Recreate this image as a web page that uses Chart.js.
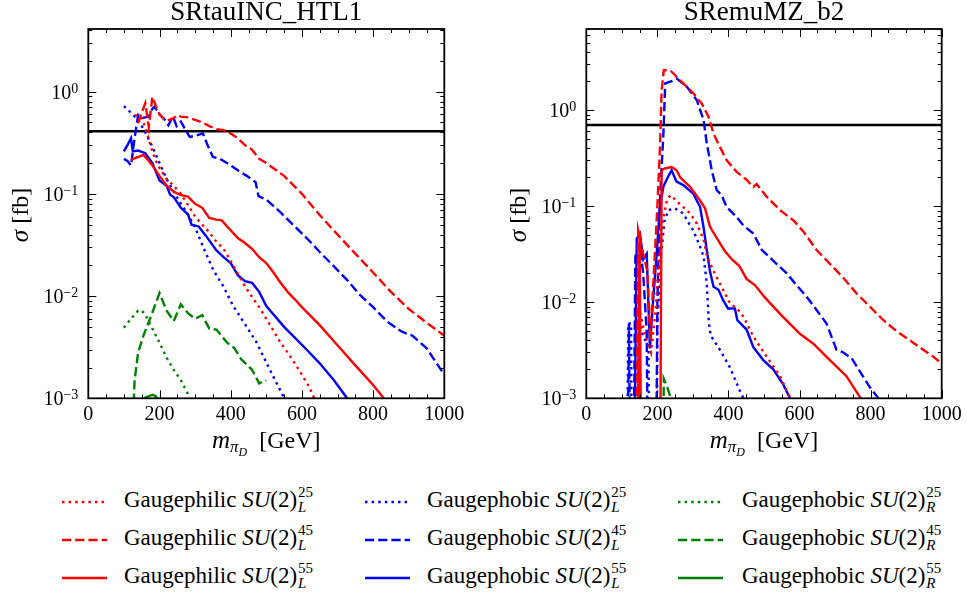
<!DOCTYPE html>
<html>
<head>
<meta charset="utf-8">
<script src="https://cdn.jsdelivr.net/npm/chart.js@4.4.0/dist/chart.umd.min.js"></script>
<style>
  body { margin: 0; background: #fff; width: 967px; height: 598px; overflow: hidden; position: relative; font-family: "Liberation Serif", serif; }
  #tauChart { position: absolute; left: 0; top: 0; }
  #emuChart { position: absolute; left: 480px; top: 0; }
  .entry { position: absolute; height: 30px; }
  .entry svg { position: absolute; left: 0; top: 12px; }
  .entry .txt { position: absolute; top: -3px; line-height: 30px; font-size: 23px; white-space: nowrap; color: #000; }
  .ss { display: inline-block; position: relative; width: 17px; height: 23px; }
  .ss span { position: absolute; left: 1px; font-size: 15px; line-height: 15px; }
  .ss .up { top: 1px; }
  .ss .dn { top: 16px; font-style: italic; }
</style>
</head>
<body>
<canvas id="tauChart" width="480" height="460"></canvas>
<canvas id="emuChart" width="487" height="460"></canvas>
<div id="legend"></div>
<script>
// ---- data: [m_piD in GeV, sigma in fb] ----
// SRtauINC_HTL1
const tauPhilic25L = [[130,0.59],[140,0.58],[150,0.55],[160,0.45],[170,0.34],[180,0.26],[190,0.21],[200,0.18],[220,0.14],[240,0.12],[260,0.1],[280,0.078],[300,0.06],[320,0.05],[340,0.042],[360,0.034],[380,0.029],[400,0.022],[420,0.0165],[440,0.0125],[460,0.0098],[480,0.0078],[500,0.006],[520,0.0046],[540,0.0035],[560,0.0028],[580,0.0022],[600,0.0017],[620,0.0013],[635,0.001],[650,0.0008]];
const tauPhilic45L = [[140,0.49],[150,0.62],[160,0.77],[170,0.45],[180,0.89],[190,0.72],[200,0.6],[210,0.55],[220,0.52],[240,0.55],[250,0.59],[260,0.57],[280,0.56],[300,0.53],[320,0.5],[340,0.46],[360,0.43],[380,0.42],[400,0.39],[420,0.35],[440,0.3],[460,0.27],[480,0.22],[500,0.2],[550,0.15],[600,0.1],[650,0.062],[700,0.04],[750,0.026],[800,0.017],[850,0.011],[900,0.0075],[950,0.0055],[1000,0.0041]];
const tauPhilic55L = [[120,0.215],[140,0.23],[155,0.24],[165,0.22],[180,0.19],[200,0.15],[220,0.12],[240,0.105],[260,0.097],[280,0.094],[300,0.08],[320,0.073],[340,0.058],[360,0.056],[375,0.055],[390,0.048],[400,0.044],[420,0.037],[440,0.033],[460,0.029],[480,0.024],[500,0.021],[520,0.017],[540,0.0135],[560,0.011],[580,0.0093],[600,0.0078],[650,0.0052],[700,0.0033],[750,0.0021],[800,0.00135],[830,0.001],[850,0.00085]];
const tauPhobic25L = [[100,0.72],[120,0.62],[140,0.53],[160,0.4],[180,0.29],[200,0.2],[220,0.14],[240,0.105],[260,0.08],[280,0.063],[300,0.047],[323,0.03],[351,0.018],[379,0.0125],[407,0.008],[445,0.005],[473,0.0035],[510,0.0019],[548,0.00104],[560,0.0008]];
const tauPhobic45L = [[100,0.22],[110,0.21],[120,0.19],[130,0.35],[140,0.59],[150,0.55],[160,0.56],[170,0.57],[180,0.68],[186,0.71],[200,0.6],[215,0.53],[225,0.47],[238,0.57],[248,0.46],[260,0.51],[275,0.41],[285,0.36],[300,0.37],[322,0.39],[335,0.3],[350,0.23],[370,0.22],[400,0.19],[420,0.17],[445,0.15],[470,0.13],[478,0.095],[500,0.088],[540,0.066],[580,0.048],[620,0.035],[650,0.027],[690,0.0195],[730,0.014],[760,0.0105],[800,0.0078],[840,0.0056],[880,0.0045],[910,0.0041],[950,0.0031],[1000,0.0017]];
const tauPhobic55L = [[100,0.26],[110,0.3],[120,0.35],[125,0.26],[140,0.265],[160,0.25],[180,0.2],[200,0.135],[220,0.12],[230,0.098],[240,0.093],[260,0.073],[280,0.063],[290,0.05],[310,0.048],[330,0.039],[360,0.028],[380,0.024],[400,0.021],[420,0.016],[440,0.014],[460,0.0135],[480,0.011],[500,0.008],[550,0.005],[613,0.003],[650,0.0022],[690,0.0015],[727,0.001],[740,0.00085]];
const tauPhobic25R = [[100,0.0049],[120,0.006],[140,0.0072],[150,0.0072],[160,0.0066],[180,0.0048],[200,0.0035],[220,0.0025],[240,0.0019],[260,0.0015],[280,0.0011],[290,0.0009]];
const tauPhobic45R = [[125,0.0005],[130,0.0015],[140,0.0028],[155,0.0041],[175,0.0062],[200,0.0107],[220,0.0072],[240,0.0057],[260,0.0083],[280,0.0068],[300,0.006],[320,0.0065],[340,0.0048],[360,0.0047],[390,0.0035],[410,0.0031],[430,0.0024],[460,0.0019],[480,0.0014],[500,0.0015]];
const tauPhobic55R = [[145,0.0009],[160,0.00102],[180,0.00108],[190,0.00105],[195,0.0009]];
const tauLimit = 0.41;

// SRemuMZ_b2
const emuPhilic25L = [[130,1e-6],[140,1e-6],[148,0.009],[158,0.006],[170,0.004],[182,0.003],[195,0.008],[205,0.03],[215,0.07],[228,0.12],[238,0.13],[254,0.113],[273,0.098],[292,0.084],[311,0.066],[330,0.045],[340,0.03],[357,0.0215],[376,0.0157],[404,0.0098],[425,0.0085],[442,0.0071],[470,0.0044],[508,0.0027],[545,0.0017],[564,0.0012],[575,0.001],[585,0.0008]];
const emuPhilic45L = [[136,1e-6],[146,0.056],[160,0.032],[172,0.021],[180,0.004],[190,0.02],[200,0.1],[207,0.38],[212,1.6],[218,2.6],[236,2.6],[264,2.05],[302,1.49],[325,1.17],[344,0.85],[358,0.57],[376,0.415],[395,0.3],[423,0.228],[450,0.19],[470,0.159],[479,0.17],[508,0.125],[545,0.091],[583,0.071],[610,0.055],[648,0.035],[686,0.025],[723,0.018],[761,0.0123],[798,0.009],[836,0.0065],[873,0.005],[911,0.004],[948,0.0032],[977,0.0027],[1000,0.0023]];
const emuPhilic55L = [[140,1e-6],[150,0.055],[158,1e-6],[205,1e-6],[212,0.237],[221,0.247],[240,0.256],[254,0.237],[264,0.2],[292,0.159],[320,0.115],[334,0.095],[348,0.061],[365,0.048],[390,0.034],[410,0.028],[430,0.024],[451,0.0175],[475,0.015],[500,0.0115],[517,0.0098],[554,0.007],[601,0.0047],[639,0.0037],[676,0.0027],[732,0.0017],[770,0.00103],[790,0.0008]];
const emuPhobic25L = [[110,1e-6],[118,0.006],[126,0.006],[130,1e-6],[140,1e-6],[146,0.008],[155,0.005],[166,0.004],[175,0.0035],[180,1e-6],[195,1e-6],[200,0.006],[210,0.03],[220,0.07],[231,0.091],[249,0.095],[273,0.084],[290,0.065],[301,0.056],[320,0.038],[330,0.03],[339,0.0157],[345,0.006],[350,0.0045],[376,0.0032],[404,0.0021],[432,0.0012],[442,0.001],[450,0.0008]];
const emuPhobic45L = [[110,1e-6],[120,0.006],[128,1e-6],[138,0.03],[150,0.04],[160,0.02],[170,0.005],[178,1e-6],[192,1e-6],[200,0.01],[207,0.115],[217,0.57],[222,1.9],[240,2.0],[254,2.14],[283,1.75],[311,1.27],[330,0.79],[339,0.45],[353,0.237],[367,0.147],[381,0.13],[395,0.098],[423,0.077],[442,0.063],[470,0.052],[494,0.035],[536,0.025],[564,0.02],[592,0.015],[620,0.0114],[648,0.0083],[676,0.006],[704,0.0032],[723,0.003],[747,0.0026],[770,0.0019],[798,0.0013],[822,0.001],[835,0.0008]];
const emuPhobic55L = [[128,1e-6],[142,0.046],[151,0.052],[160,0.028],[170,0.032],[179,0.0033],[188,0.0105],[198,0.032],[207,0.098],[217,0.16],[226,0.19],[240,0.237],[254,0.18],[273,0.166],[301,0.135],[320,0.099],[330,0.06],[339,0.035],[348,0.021],[358,0.0145],[372,0.0135],[385,0.0105],[399,0.0086],[418,0.0086],[425,0.0065],[451,0.0052],[470,0.0034],[498,0.0025],[526,0.002],[554,0.0014],[573,0.001],[585,0.0008]];
const emuPhobic25R = [];
const emuPhobic45R = [[212,1e-6],[218,0.0016],[228,0.0013],[236,0.00105],[245,0.0008]];
const emuPhobic55R = [];
const emuLimit = 0.70;

// ---- labels and styles ----
const legendWords = ['Gaugephilic','Gaugephilic','Gaugephilic','Gaugephobic','Gaugephobic','Gaugephobic','Gaugephobic','Gaugephobic','Gaugephobic'];
const legendUp = ['25','45','55','25','45','55','25','45','55'];
const legendDown = ['L','L','L','L','L','L','R','R','R'];
const lineColors = ['#ff0000','#ff0000','#ff0000','#0000ff','#0000ff','#0000ff','#008000','#008000','#008000'];
const lineStyles = ['dotted','dashed','solid','dotted','dashed','solid','dotted','dashed','solid'];
const massTicks = [0, 200, 400, 600, 800, 1000];
const decadeTicks = [1e-3, 1e-2, 1e-1, 1];
const decadeExp = ['\u22123', '\u22122', '\u22121', '0'];

const DASH = { dotted: [2.5, 4.1], dashed: [9.2, 4], solid: [] };
const SERIF = '"Liberation Serif", serif';

function buildDatasets(series, limit) {
  const sets = series.map((pts, i) => ({
    data: pts.map(p => ({ x: p[0], y: p[1] })),
    borderColor: lineColors[i],
    borderWidth: 2.4,
    borderDash: DASH[lineStyles[i]],
    pointRadius: 0,
    tension: 0,
    fill: false,
    clip: 0
  }));
  sets.push({
    data: [{ x: 0, y: limit }, { x: 1000, y: limit }],
    borderColor: '#000', borderWidth: 2.6, pointRadius: 0, clip: 0
  });
  return sets;
}

// frame, inward ticks, tick labels, axis titles and panel title
const axesDecor = {
  id: 'axesDecor',
  afterDraw(chart, args, o) {
    const { ctx, chartArea: a, scales: { x, y } } = chart;
    ctx.save();
    ctx.strokeStyle = '#000';
    ctx.fillStyle = '#000';
    ctx.lineWidth = 1;
    ctx.beginPath();
    for (let v = 0; v <= 1000; v += 50) {
      const px = Math.round(x.getPixelForValue(v)) + 0.5;
      const len = v % 200 === 0 ? 8 : 4;
      ctx.moveTo(px, a.bottom); ctx.lineTo(px, a.bottom - len);
      ctx.moveTo(px, a.top); ctx.lineTo(px, a.top + len);
    }
    for (let e = -3; e <= 1; e++) {
      for (let m = 1; m <= 9; m++) {
        const v = m * Math.pow(10, e);
        if (v < y.min * 0.999 || v > y.max) continue;
        const py = Math.round(y.getPixelForValue(v)) + 0.5;
        const len = m === 1 ? 8 : 4;
        ctx.moveTo(a.left, py); ctx.lineTo(a.left + len, py);
        ctx.moveTo(a.right, py); ctx.lineTo(a.right - len, py);
      }
    }
    ctx.stroke();
    ctx.lineWidth = 1.8;
    ctx.strokeRect(a.left, a.top, a.right - a.left, a.bottom - a.top);

    ctx.textBaseline = 'alphabetic';
    ctx.font = '20px ' + SERIF;
    ctx.textAlign = 'center';
    massTicks.forEach(v => ctx.fillText(String(v), x.getPixelForValue(v), a.bottom + 22));

    decadeTicks.forEach((v, i) => {
      const py = y.getPixelForValue(v);
      const right = a.left - 10;
      ctx.font = '14px ' + SERIF;
      const ew = ctx.measureText(decadeExp[i]).width;
      ctx.textAlign = 'left';
      ctx.fillText(decadeExp[i], right - ew, py + 1);
      ctx.font = '20px ' + SERIF;
      ctx.textAlign = 'right';
      ctx.fillText('10', right - ew, py + 7);
    });

    // x axis title: m_{pi_D} [GeV]
    const cx = (a.left + a.right) / 2;
    const base = 448;
    const parts = [
      { t: 'm', f: 'italic 25px ' + SERIF, dy: 0 },
      { t: '\u03c0', f: 'italic 17px ' + SERIF, dy: 4 },
      { t: 'D', f: 'italic 12px ' + SERIF, dy: 8 },
      { t: '  [GeV]', f: '24px ' + SERIF, dy: 0 }
    ];
    let total = 0;
    parts.forEach(p => { ctx.font = p.f; p.w = ctx.measureText(p.t).width; total += p.w; });
    let px = cx - total / 2;
    ctx.textAlign = 'left';
    parts.forEach(p => { ctx.font = p.f; ctx.fillText(p.t, px, base + p.dy); px += p.w; });

    // y axis title: sigma [fb]
    ctx.save();
    ctx.translate(a.left - 60, 215);
    ctx.rotate(-Math.PI / 2);
    ctx.font = 'italic 25px ' + SERIF;
    const sw = ctx.measureText('\u03c3').width;
    ctx.font = '24px ' + SERIF;
    const bw = ctx.measureText(' [fb]').width;
    ctx.textAlign = 'left';
    ctx.font = 'italic 25px ' + SERIF;
    ctx.fillText('\u03c3', -(sw + bw) / 2, 0);
    ctx.font = '24px ' + SERIF;
    ctx.fillText(' [fb]', -(sw + bw) / 2 + sw, 0);
    ctx.restore();

    // panel title
    ctx.font = '27px ' + SERIF;
    ctx.textAlign = 'center';
    ctx.fillText(o.text, cx, 20);
    ctx.restore();
  }
};

function makePanel(id, series, limit, yMax, title, yAxisWidth, rightPad) {
  return new Chart(document.getElementById(id), {
    type: 'line',
    data: { datasets: buildDatasets(series, limit) },
    options: {
      responsive: false,
      animation: false,
      layout: { padding: { top: 29, right: rightPad, bottom: 0, left: 0 } },
      plugins: {
        legend: { display: false },
        tooltip: { enabled: false },
        axesDecor: { text: title }
      },
      scales: {
        x: {
          type: 'linear', min: 0, max: 1000,
          grid: { display: false }, border: { display: false },
          ticks: { display: false },
          afterFit: s => { s.height = 460 - 398.3; }
        },
        y: {
          type: 'logarithmic', min: 1e-3, max: yMax,
          grid: { display: false }, border: { display: false },
          ticks: { display: false },
          afterFit: s => { s.width = yAxisWidth; }
        }
      }
    },
    plugins: [axesDecor]
  });
}

makePanel('tauChart',
  [tauPhilic25L, tauPhilic45L, tauPhilic55L, tauPhobic25L, tauPhobic45L, tauPhobic55L, tauPhobic25R, tauPhobic45R, tauPhobic55R],
  tauLimit, 4.1, 'SRtauINC_HTL1', 88.3, 480 - 444.3);
makePanel('emuChart',
  [emuPhilic25L, emuPhilic45L, emuPhilic55L, emuPhobic25L, emuPhobic45L, emuPhobic55L, emuPhobic25R, emuPhobic45R, emuPhobic55R],
  emuLimit, 7.0, 'SRemuMZ_b2', 106.3, 487 - 461.7);

// ---- legend (3 columns x 3 rows) ----
const colSample = [62, 365, 678];
const colText = [124, 427, 742];
const rowCenter = [502, 540, 578];
const legend = document.getElementById('legend');
legendWords.forEach((word, i) => {
  const col = Math.floor(i / 3), row = i % 3;
  const div = document.createElement('div');
  div.className = 'entry';
  div.style.left = colSample[col] + 'px';
  div.style.top = (rowCenter[row] - 15) + 'px';
  const dash = DASH[lineStyles[i]].join(' ');
  div.innerHTML =
    '<svg width="45" height="6"><line x1="0" y1="3" x2="45" y2="3" stroke="' + lineColors[i] +
    '" stroke-width="2.6"' + (dash ? ' stroke-dasharray="' + dash + '"' : '') + '/></svg>' +
    '<span class="txt" style="left:' + (colText[col] - colSample[col]) + 'px">' + word +
    ' <i>SU</i>(2)<span class="ss"><span class="up">' + legendUp[i] + '</span><span class="dn">' +
    legendDown[i] + '</span></span></span>';
  legend.appendChild(div);
});
</script>
</body>
</html>
